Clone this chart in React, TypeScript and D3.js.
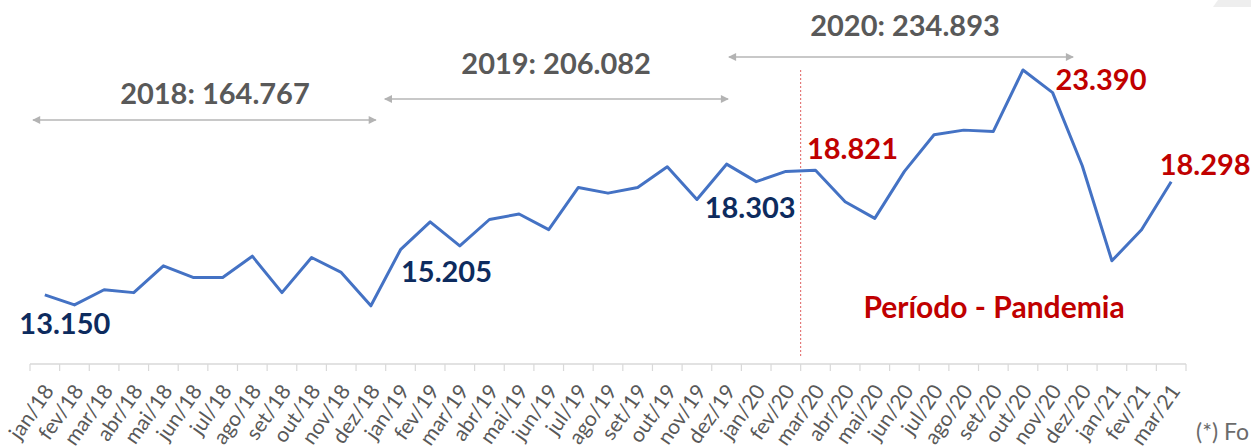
import React from 'react';
import * as d3 from 'd3';

// monthly values (thousands)
const months = [
  "jan/18", "fev/18", "mar/18", "abr/18", "mai/18", "jun/18", "jul/18", "ago/18", "set/18", "out/18", "nov/18", "dez/18",
  "jan/19", "fev/19", "mar/19", "abr/19", "mai/19", "jun/19", "jul/19", "ago/19", "set/19", "out/19", "nov/19", "dez/19",
  "jan/20", "fev/20", "mar/20", "abr/20", "mai/20", "jun/20", "jul/20", "ago/20", "set/20", "out/20", "nov/20", "dez/20",
  "jan/21", "fev/21", "mar/21",
];
const values = [
  13.150, 12.69, 13.38, 13.25, 14.47, 13.94, 13.94, 14.91, 13.25, 14.85, 14.17, 12.65,
  15.205, 16.47, 15.38, 16.58, 16.83, 16.12, 18.04, 17.78, 18.04, 18.98, 17.49, 19.10,
  18.303, 18.77, 18.821, 17.39, 16.63, 18.77, 20.44, 20.65, 20.59, 23.390, 22.36, 19.03,
  14.70, 16.11, 18.298,
];

// point labels: month, text, colour, offset from the point
const pointLabels = [
  { month: "jan/18", text: "13.150", color: "#0d2b5e", dx: 20, dy: 39 },
  { month: "jan/19", text: "15.205", color: "#0d2b5e", dx: 46, dy: 32 },
  { month: "jan/20", text: "18.303", color: "#0d2b5e", dx: -6, dy: 36 },
  { month: "mar/20", text: "18.821", color: "#c00000", dx: 37, dy: -11 },
  { month: "out/20", text: "23.390", color: "#c00000", dx: 78, dy: 20 },
  { month: "mar/21", text: "18.298", color: "#c00000", dx: 34, dy: -7 },
];

// yearly totals with their spans (in month index units)
const yearTexts = ["2018: 164.767", "2019: 206.082", "2020: 234.893"];
const yearStart = [-0.4, 11.47, 23.08];
const yearEnd = [11.17, 23.05, 34.69];
const yearTextPos = [5.74, 17.25, 29.02];
const yearArrowY = [120, 99, 57];
const yearTextY = [104, 74, 36];

const pandemicStart = "mar/20";

export default function App() {
  const width = 1251;
  const height = 446;
  const axisY = 364;

  const x = d3.scaleBand<string>().domain(months).range([30, 1186]).padding(0);
  const bw = x.bandwidth();
  const cx = (m: string) => (x(m) as number) + bw / 2;
  const xi = d3.scaleLinear().domain([0, months.length - 1]).range([cx(months[0]), cx(months[months.length - 1])]);

  const y = d3.scaleLinear().domain([10, 25]).range([axisY, 34.6]);

  const line = d3.line<number>()
    .x((d, i) => cx(months[i]))
    .y(d => y(d));

  const ticks = [...months.map(m => x(m) as number), 1186];
  const font = "Lato, 'Open Sans', sans-serif";
  const pandemicX = x(pandemicStart) as number;

  return (
    <svg width={width} height={height} style={{ position: "absolute", left: 0, top: 0, background: "#fff" }} fontFamily={font}>
      <defs>
        <marker id="arrowEnd" viewBox="0 0 10 10" refX="9" refY="5" markerWidth="10" markerHeight="8" markerUnits="userSpaceOnUse" orient="auto">
          <path d="M0,0 L10,5 L0,10 Z" fill="#b3b3b3" />
        </marker>
        <marker id="arrowStart" viewBox="0 0 10 10" refX="1" refY="5" markerWidth="10" markerHeight="8" markerUnits="userSpaceOnUse" orient="auto">
          <path d="M10,0 L0,5 L10,10 Z" fill="#b3b3b3" />
        </marker>
      </defs>

      {/* corner decoration */}
      <polygon points="1218,0 1251,0 1251,7 1213,7" fill="#eeeeee" />

      {/* x axis */}
      <line x1={30} x2={1186} y1={axisY} y2={axisY} stroke="#d9d9d9" strokeWidth={1.5} />
      {ticks.map((t, i) => (
        <line key={i} x1={t} x2={t} y1={axisY} y2={axisY + 7} stroke="#d9d9d9" strokeWidth={1.2} />
      ))}
      {months.map(m => (
        <text key={m} transform={`translate(${cx(m) + 10},${axisY + 27}) rotate(-55)`}
          textAnchor="end" fontSize={21} fill="#595959">{m}</text>
      ))}

      {/* pandemic marker */}
      <line x1={pandemicX} x2={pandemicX} y1={70} y2={axisY - 6} stroke="#e06060" strokeWidth={1} strokeDasharray="2,2" />
      <text x={994} y={318} textAnchor="middle" fontSize={30} fontWeight="bold" fill="#c00000">Período - Pandemia</text>

      {/* yearly totals */}
      {yearTexts.map((t, i) => (
        <g key={t}>
          <line x1={xi(yearStart[i])} x2={xi(yearEnd[i])} y1={yearArrowY[i]} y2={yearArrowY[i]}
            stroke="#c8c8c8" strokeWidth={2} markerStart="url(#arrowStart)" markerEnd="url(#arrowEnd)" />
          <text x={xi(yearTextPos[i])} y={yearTextY[i]} textAnchor="middle" fontSize={29} fontWeight="bold" fill="#595959">{t}</text>
        </g>
      ))}

      {/* series */}
      <path d={line(values) as string} fill="none" stroke="#4472c4" strokeWidth={3} strokeLinejoin="round" />

      {pointLabels.map(l => {
        const i = months.indexOf(l.month);
        return (
          <text key={l.month} x={cx(l.month) + l.dx} y={y(values[i]) + l.dy} textAnchor="middle"
            fontSize={29} fontWeight="bold" fill={l.color}>{l.text}</text>
        );
      })}

      <text x={1196} y={440} fontSize={23} fill="#6b6b6b">(*) Fo</text>
    </svg>
  );
}
